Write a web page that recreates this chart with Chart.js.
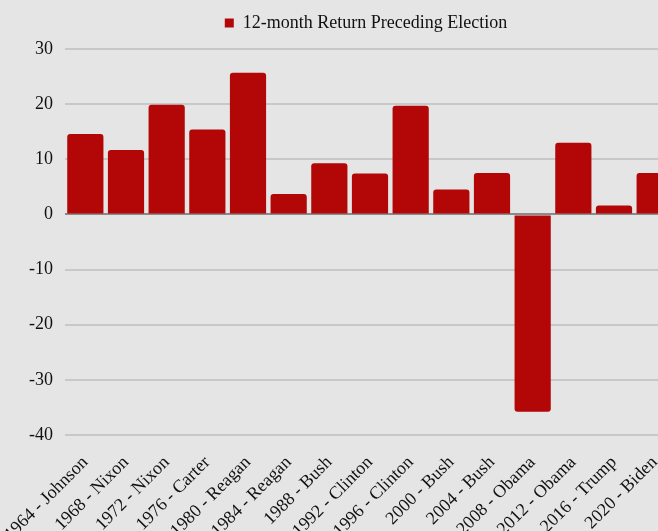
<!DOCTYPE html>
<html>
<head>
<meta charset="utf-8">
<script src="https://cdn.jsdelivr.net/npm/chart.js@4/dist/chart.umd.min.js"></script>
<style>
  html, body { margin: 0; padding: 0; background: #e5e5e5; overflow: hidden; }
  #wrap { position: absolute; left: 0; top: 0; }
</style>
</head>
<body>
<div id="wrap"><canvas id="c" width="690" height="545"></canvas></div>
<script>
const categories = ["1964 - Johnson", "1968 - Nixon", "1972 - Nixon", "1976 - Carter", "1980 - Reagan",
  "1984 - Reagan", "1988 - Bush", "1992 - Clinton", "1996 - Clinton", "2000 - Bush",
  "2004 - Bush", "2008 - Obama", "2012 - Obama", "2016 - Trump", "2020 - Biden"];
const returns = [14.6, 11.7, 19.9, 15.4, 25.7, 3.7, 9.3, 7.4, 19.7, 4.5, 7.5, -35.8, 13.0, 1.6, 7.5];
const seriesName = "12-month Return Preceding Election";
const yTicks = { min: -40, max: 30, step: 10 };

const serif = "'Liberation Serif', 'Times New Roman', serif";

const bgPlugin = {
  id: 'bg',
  beforeUpdate(chart) {
    const lg = chart.legend;
    if (lg && !lg._extraSpace) {
      const origFit = lg.fit.bind(lg);
      lg.fit = function () { origFit(); this.height += 7; };
      lg._extraSpace = true;
    }
  },
  afterLayout(chart) {
    const lg = chart.legend;
    if (lg) { lg.left -= 4; lg.right -= 4; }
  },
  beforeDraw(chart) {
    const ctx = chart.ctx;
    ctx.save();
    ctx.fillStyle = '#e5e5e5';
    ctx.fillRect(0, 0, chart.width, chart.height);
    ctx.restore();
  }
};

new Chart(document.getElementById('c'), {
  type: 'bar',
  data: {
    labels: categories,
    datasets: [{
      label: seriesName,
      data: returns,
      backgroundColor: '#b30606',
      borderColor: '#b30606',
      borderWidth: 0,
      borderRadius: 3,
      barPercentage: 0.89,
      categoryPercentage: 1.0
    }]
  },
  options: {
    responsive: false,
    animation: false,
    devicePixelRatio: 1,
    layout: { padding: { left: 0, right: 15, top: -5, bottom: 0 } },
    plugins: {
      legend: {
        position: 'top',
        fullSize: false,
        labels: {
          boxWidth: 9,
          boxHeight: 9,
          color: '#111',
          font: { family: serif, size: 18 },
          padding: 19
        }
      },
      tooltip: { enabled: false }
    },
    scales: {
      x: {
        grid: { display: false, drawTicks: false },
        border: { display: false },
        afterFit: (scale) => { scale.height = 110; scale.paddingLeft = 0; scale.paddingRight = 0; },
        ticks: {
          autoSkip: false,
          maxRotation: 45,
          minRotation: 45,
          color: '#111',
          padding: 17,
          font: { family: serif, size: 18 }
        }
      },
      y: {
        min: yTicks.min,
        max: yTicks.max,
        border: { display: false },
        afterFit: (scale) => { scale.width = 65; },
        grid: {
          drawTicks: false,
          lineWidth: 2,
          color: (ctx) => ctx.tick && ctx.tick.value === 0 ? '#8a8a8a' : '#c8c8c8'
        },
        ticks: {
          stepSize: yTicks.step,
          color: '#111',
          padding: 12,
          font: { family: serif, size: 18 }
        }
      }
    }
  },
  plugins: [bgPlugin]
});
</script>
</body>
</html>
